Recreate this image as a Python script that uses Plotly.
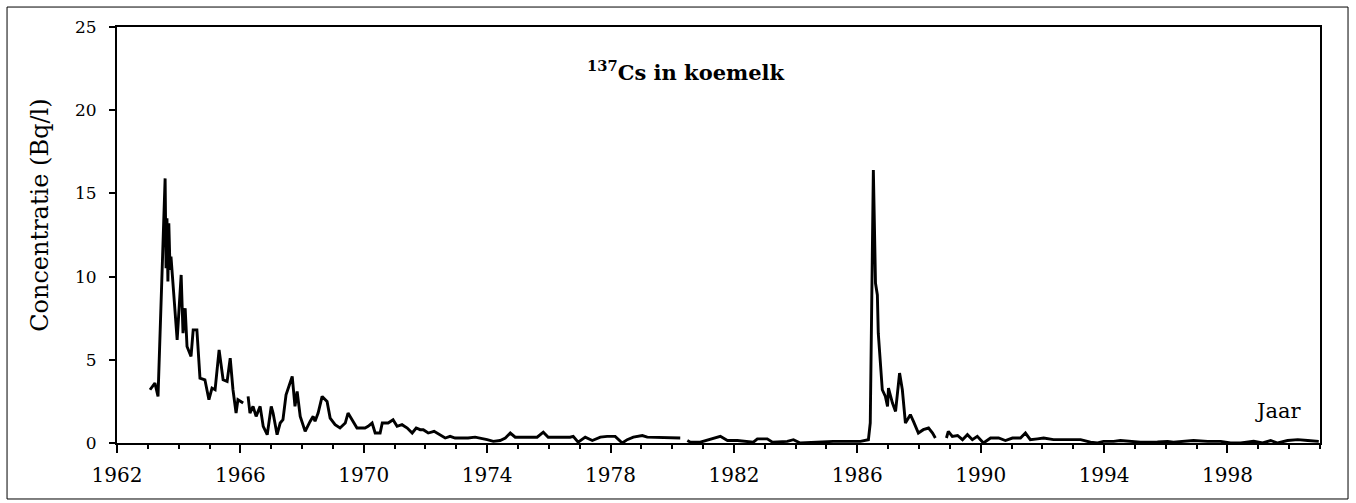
import plotly.graph_objects as go

# 137Cs in koemelk (jaar, Bq/l); segments are separated by gaps
jaar_1963 = [1963.07, 1963.23, 1963.33, 1963.56, 1963.59, 1963.62, 1963.65, 1963.68, 1963.72, 1963.75,
             1963.95, 1964.08, 1964.14, 1964.21, 1964.27, 1964.40, 1964.47, 1964.59, 1964.69, 1964.85,
             1964.98, 1965.08, 1965.18, 1965.31, 1965.44, 1965.57, 1965.67, 1965.76, 1965.86, 1965.92,
             1966.09]
cs_1963 = [3.2, 3.6, 2.8, 15.9, 10.5, 13.5, 9.7, 13.2, 10.4, 11.2,
           6.2, 10.1, 6.6, 8.1, 5.8, 5.2, 6.8, 6.8, 3.9, 3.8,
           2.6, 3.3, 3.2, 5.6, 3.8, 3.7, 5.1, 3.2, 1.8, 2.6,
           2.4]

jaar_1966 = [1966.25, 1966.31, 1966.41, 1966.51, 1966.64, 1966.74, 1966.87, 1967.00, 1967.06, 1967.19,
             1967.29, 1967.38, 1967.48, 1967.68, 1967.77, 1967.84, 1967.94, 1968.10, 1968.26, 1968.36,
             1968.42, 1968.52, 1968.65, 1968.81, 1968.91, 1969.07, 1969.23, 1969.40, 1969.49, 1969.62,
             1969.78, 1970.04, 1970.14, 1970.27, 1970.37, 1970.53, 1970.60, 1970.79, 1970.95, 1971.08,
             1971.24, 1971.41, 1971.57, 1971.70, 1971.83, 1971.93, 1972.09, 1972.28, 1972.48, 1972.64,
             1972.80, 1972.96, 1973.19, 1973.38, 1973.61, 1973.77, 1974.00, 1974.20, 1974.42, 1974.59,
             1974.75, 1974.91, 1975.62, 1975.82, 1975.98, 1976.69, 1976.79, 1976.95, 1977.18, 1977.41,
             1977.67, 1977.89, 1978.15, 1978.38, 1978.54, 1978.74, 1979.03, 1979.19, 1980.26]
cs_1966 = [2.8, 1.8, 2.2, 1.6, 2.2, 1.0, 0.5, 2.2, 1.8, 0.5,
           1.2, 1.4, 2.9, 4.0, 2.2, 3.1, 1.6, 0.7, 1.3, 1.6,
           1.3, 1.8, 2.8, 2.5, 1.5, 1.1, 0.9, 1.2, 1.8, 1.4,
           0.9, 0.9, 1.0, 1.2, 0.6, 0.6, 1.2, 1.2, 1.4, 1.0,
           1.1, 0.9, 0.6, 0.9, 0.8, 0.8, 0.6, 0.7, 0.5, 0.3,
           0.4, 0.3, 0.3, 0.3, 0.35, 0.3, 0.2, 0.1, 0.15, 0.3,
           0.6, 0.35, 0.35, 0.65, 0.35, 0.35, 0.4, 0.05, 0.35, 0.15,
           0.35, 0.4, 0.4, 0.0, 0.2, 0.35, 0.45, 0.35, 0.3]

jaar_1980 = [1980.49, 1980.59, 1980.91, 1981.23, 1981.56, 1981.79, 1982.11, 1982.63, 1982.76, 1983.08,
             1983.25, 1983.73, 1983.93, 1984.15, 1984.71, 1985.22, 1985.77, 1986.10, 1986.36, 1986.42,
             1986.52, 1986.59, 1986.65, 1986.68, 1986.81, 1986.91, 1986.98, 1987.01, 1987.14, 1987.24,
             1987.37, 1987.46, 1987.56, 1987.72, 1987.82, 1987.98, 1988.14, 1988.31, 1988.44, 1988.53]
cs_1980 = [0.15, 0.05, 0.05, 0.2, 0.4, 0.15, 0.15, 0.05, 0.25, 0.25,
           0.05, 0.1, 0.2, 0.0, 0.05, 0.1, 0.1, 0.1, 0.2, 1.2,
           16.4, 9.6, 8.9, 6.6, 3.2, 2.8, 2.2, 3.3, 2.4, 1.9,
           4.2, 3.2, 1.2, 1.7, 1.3, 0.6, 0.8, 0.9, 0.6, 0.3]

jaar_1988 = [1988.89, 1988.95, 1989.08, 1989.25, 1989.41, 1989.57, 1989.73, 1989.89, 1990.09, 1990.32,
             1990.58, 1990.80, 1991.03, 1991.29, 1991.45, 1991.61, 1991.84, 1992.04, 1992.36, 1992.81,
             1993.24, 1993.56, 1993.79, 1993.98, 1994.31, 1994.53, 1994.76, 1995.18, 1995.73, 1996.06,
             1996.25, 1996.71, 1996.90, 1997.36, 1997.78, 1998.10, 1998.43, 1998.85, 1999.14, 1999.40,
             1999.63, 1999.95, 2000.28, 2000.60, 2000.96]
cs_1988 = [0.3, 0.7, 0.4, 0.45, 0.2, 0.5, 0.2, 0.4, 0.0, 0.3,
           0.3, 0.15, 0.3, 0.3, 0.6, 0.2, 0.25, 0.3, 0.2, 0.2,
           0.2, 0.05, 0.0, 0.1, 0.1, 0.15, 0.1, 0.05, 0.07, 0.1,
           0.05, 0.1, 0.15, 0.1, 0.1, 0.0, 0.0, 0.1, 0.0, 0.15,
           0.0, 0.15, 0.2, 0.15, 0.1]

x_ticks = list(range(1962, 2000, 4))
y_ticks = [0, 5, 10, 15, 20, 25]

jaar = jaar_1963 + [None] + jaar_1966 + [None] + jaar_1980 + [None] + jaar_1988
cs = cs_1963 + [None] + cs_1966 + [None] + cs_1980 + [None] + cs_1988

serif = "DejaVu Serif, Liberation Serif, serif"

fig = go.Figure()
fig.add_trace(go.Scatter(x=jaar, y=cs, mode="lines", connectgaps=False,
                         line=dict(color="black", width=2.9), showlegend=False))

fig.update_layout(
    width=1356, height=503,
    margin=dict(l=117, r=36, t=27, b=60),
    paper_bgcolor="white", plot_bgcolor="white",
    font=dict(family=serif, color="black", size=16),
)
fig.update_xaxes(
    range=[1962, 2001], tickvals=x_ticks, showgrid=False, zeroline=False,
    showline=True, linecolor="black", linewidth=2, mirror=True,
    ticks="outside", ticklen=8, tickwidth=1.5, tickcolor="black",
    minor=dict(dtick=1, tick0=1962, ticks="outside", ticklen=4, tickcolor="black", showgrid=False),
    tickfont=dict(size=20), ticklabelstandoff=5,
)
fig.update_yaxes(
    range=[0, 25], tickvals=y_ticks, showgrid=False, zeroline=False,
    showline=True, linecolor="black", linewidth=2, mirror=True,
    ticks="outside", ticklen=6, tickwidth=1.5, tickcolor="black",
    tickfont=dict(size=17), ticklabelstandoff=9,
)

fig.add_annotation(text="<sup>137</sup>Cs in koemelk", xref="paper", yref="paper",
                   x=0.473, y=0.894, xanchor="center", yanchor="middle", showarrow=False,
                   font=dict(family=serif, size=21, color="black", weight="bold"))
fig.add_annotation(text="Jaar", xref="paper", yref="paper", x=0.965, y=0.078,
                   xanchor="center", yanchor="middle", showarrow=False,
                   font=dict(family=serif, size=21, color="black"))
fig.add_annotation(text="Concentratie (Bq/l)", xref="paper", yref="paper",
                   x=-0.064, y=0.546, xanchor="center", yanchor="middle",
                   textangle=-90, showarrow=False,
                   font=dict(family=serif, size=24, color="black"))

# outer frame around the whole figure
fig.add_shape(type="rect", xref="paper", yref="paper",
              x0=-0.0914, x1=1.0233, y0=-0.1346, y1=1.048,
              line=dict(color="black", width=1))

fig.write_html("out.html", config={"displayModeBar": False},
               post_script="document.body.style.margin='0';")
